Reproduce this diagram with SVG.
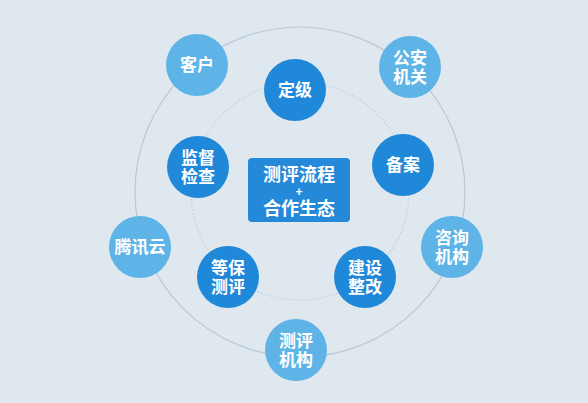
<svg xmlns="http://www.w3.org/2000/svg" width="588" height="403" viewBox="0 0 588 403">
<style>
text{font-family:"Liberation Sans","Noto Sans CJK SC",sans-serif;fill:#fff;text-anchor:middle;font-weight:bold}
.t{font-size:17px}
.c{font-size:18px}
.p{font-size:12px}
.inner{fill:#1f88d8}
.outer{fill:#5eb4e6}
.ring{fill:none;stroke:#b8c9d5;stroke-width:1.2}
.dots{fill:none;stroke:#c3cfda;stroke-width:1.2;stroke-dasharray:1.5 2}
</style>
<rect width="588" height="403" fill="#dfe7ef"/>
<g id="connectors">
<circle class="ring" cx="300" cy="192" r="165"/>
<circle class="dots" cx="300" cy="191" r="109"/>
</g>
<g id="center">
<rect x="248" y="158" width="102" height="64" rx="4" fill="#2489d9"/>
<text class="c" x="299" y="180.5">测评流程</text>
<text class="p" x="299" y="195.5">+</text>
<text class="c" x="299" y="214.8">合作生态</text>
</g>
<g id="dingji"><circle class="inner" cx="295" cy="90" r="31"/><text class="t" x="295" y="96">定级</text></g>
<g id="beian"><circle class="inner" cx="403" cy="165" r="31"/><text class="t" x="403" y="171">备案</text></g>
<g id="jiandu"><circle class="inner" cx="198" cy="167" r="31"/><text class="t" x="198" y="163.7">监督</text><text class="t" x="198" y="183.2">检查</text></g>
<g id="dengbao"><circle class="inner" cx="228" cy="277" r="31"/><text class="t" x="228" y="273.7">等保</text><text class="t" x="228" y="293.2">测评</text></g>
<g id="jianshe"><circle class="inner" cx="365" cy="277" r="31"/><text class="t" x="365" y="273.7">建设</text><text class="t" x="365" y="293.2">整改</text></g>
<g id="kehu"><circle class="outer" cx="197" cy="65" r="31"/><text class="t" x="197" y="71">客户</text></g>
<g id="gongan"><circle class="outer" cx="410" cy="67" r="31"/><text class="t" x="410" y="63.7">公安</text><text class="t" x="410" y="83.2">机关</text></g>
<g id="tengxun"><circle class="outer" cx="140" cy="247" r="31"/><text class="t" x="140" y="253">腾讯云</text></g>
<g id="zixun"><circle class="outer" cx="452" cy="247" r="31"/><text class="t" x="452" y="243.7">咨询</text><text class="t" x="452" y="263.2">机构</text></g>
<g id="cepingjigou"><circle class="outer" cx="296" cy="350" r="31"/><text class="t" x="296" y="346.7">测评</text><text class="t" x="296" y="366.2">机构</text></g>
</svg>
